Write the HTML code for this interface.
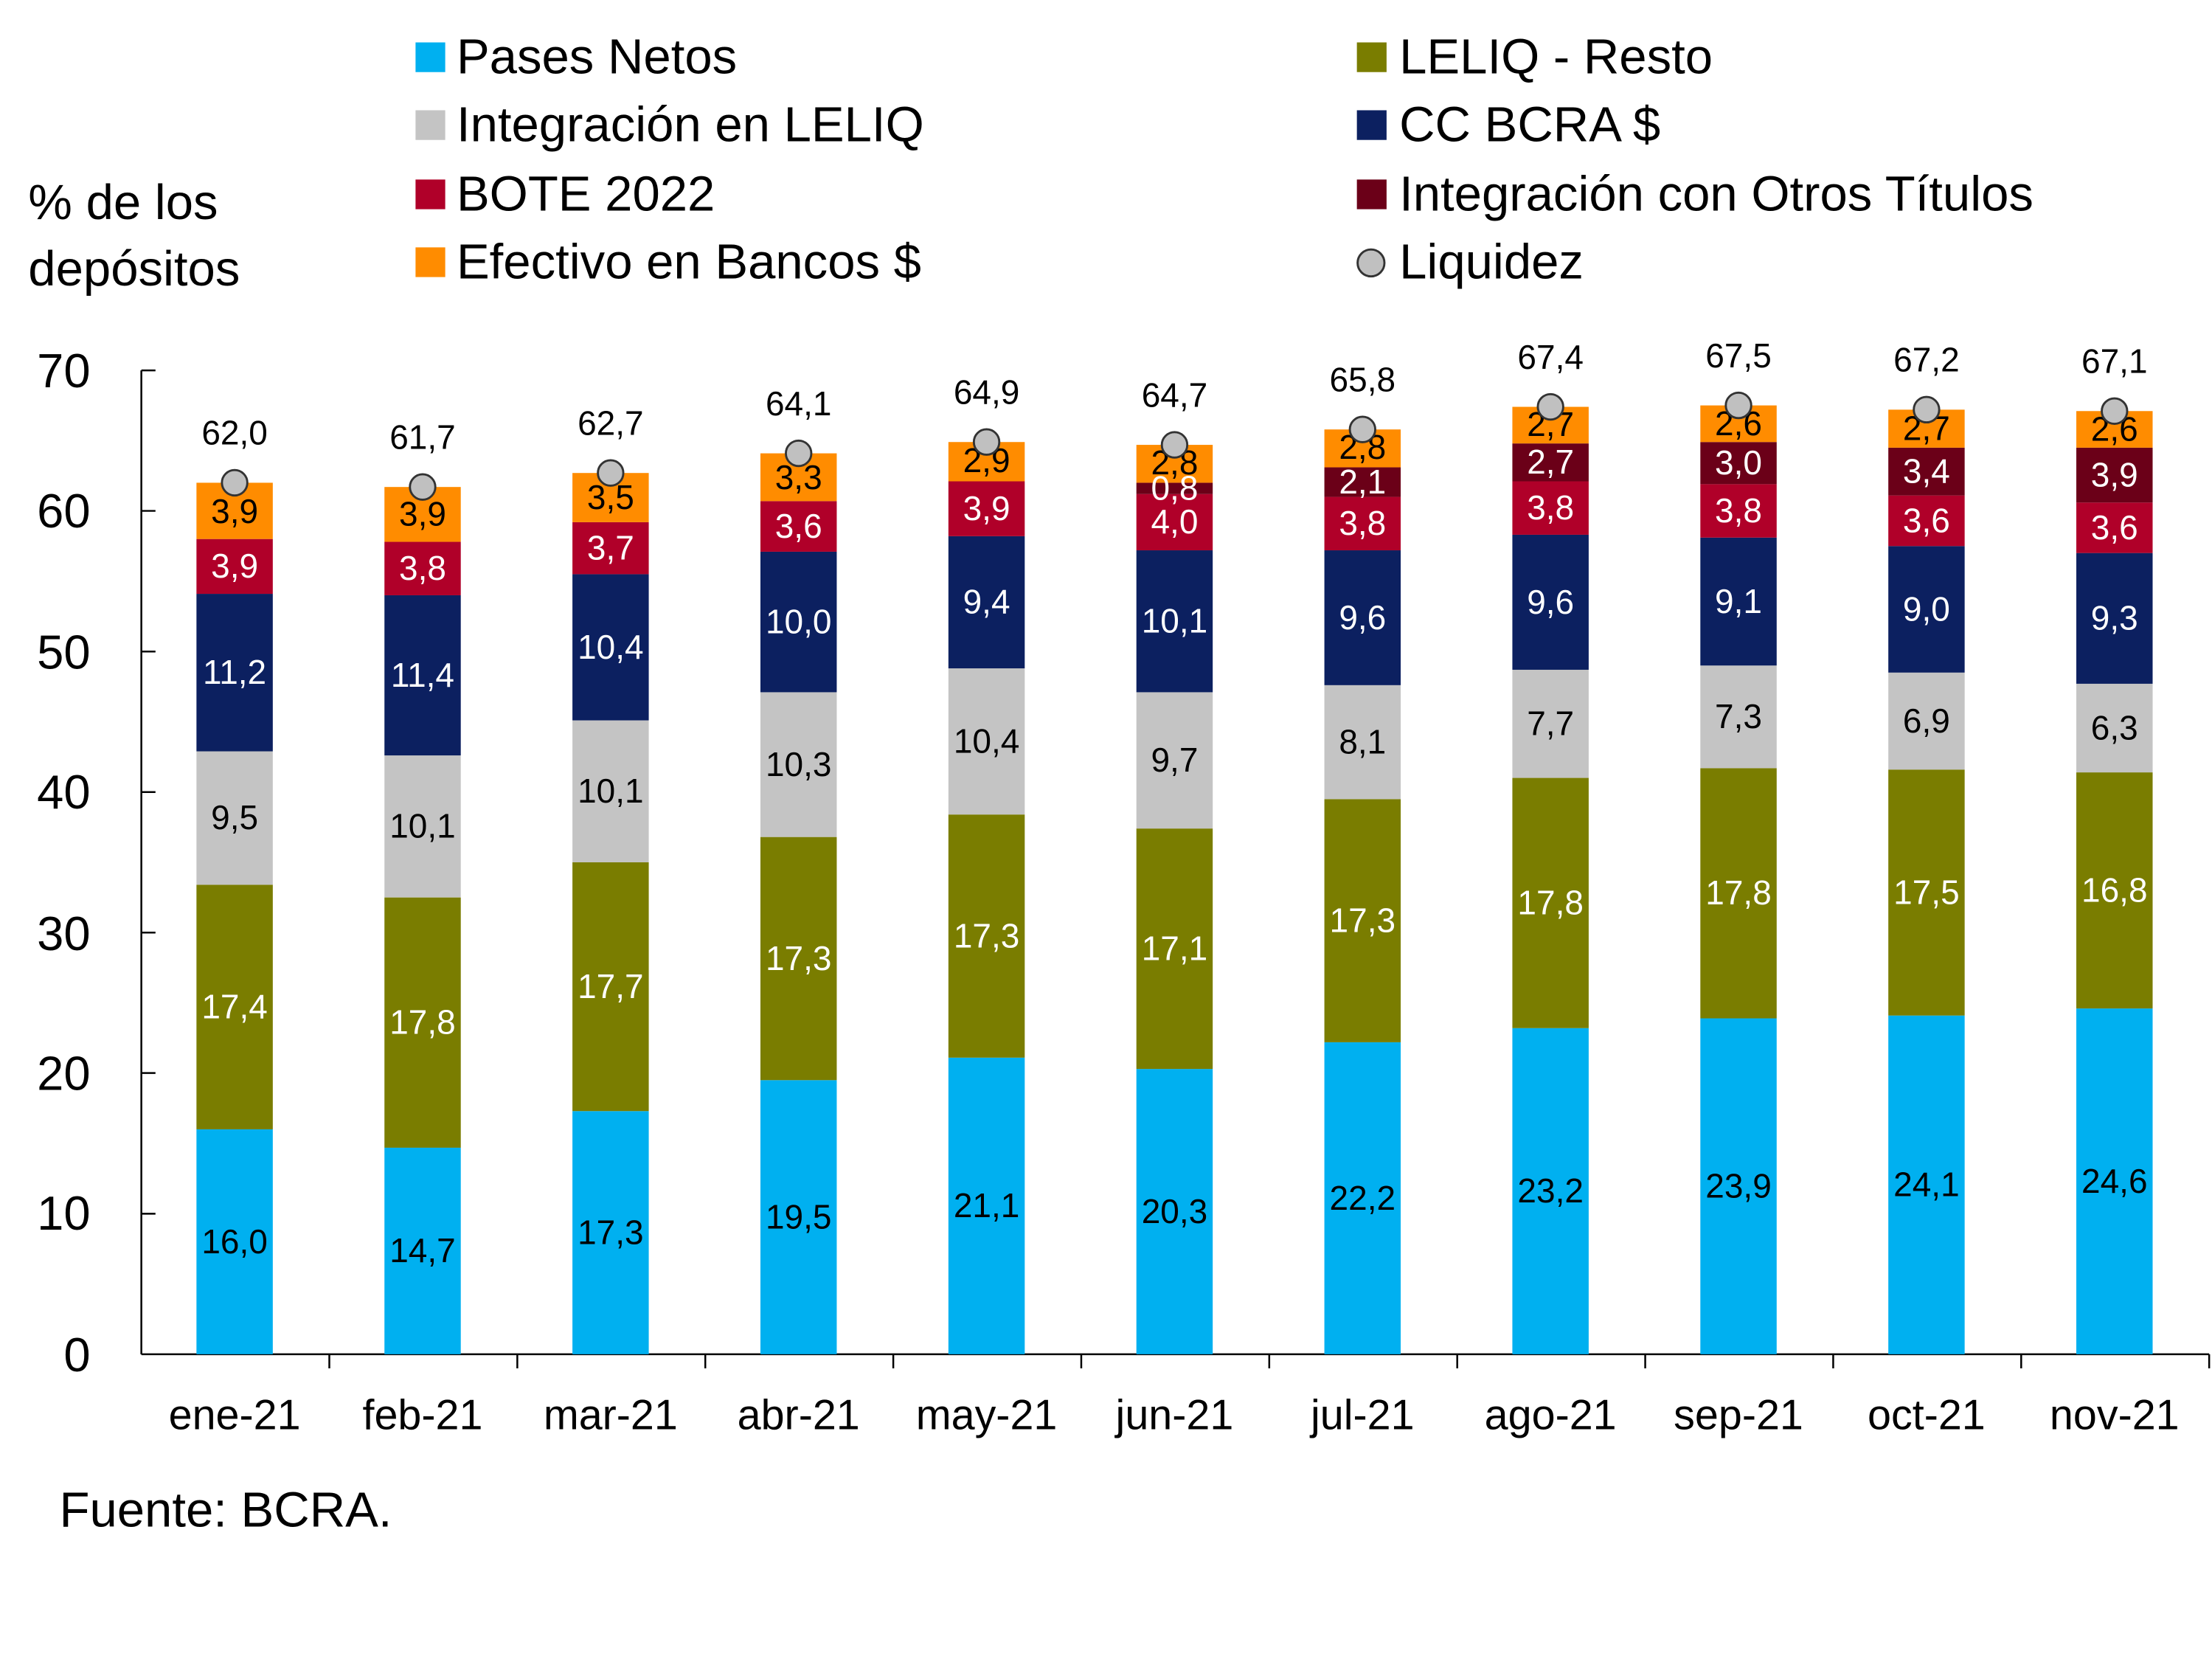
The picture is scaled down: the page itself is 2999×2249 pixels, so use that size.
<!DOCTYPE html>
<html><head><meta charset="utf-8"><style>
html,body{margin:0;padding:0;background:#fff;}
svg{display:block;font-family:"Liberation Sans",Arial,sans-serif;}
.v{font-size:24px;text-anchor:middle;fill:#000;}
.w{font-size:24px;text-anchor:middle;fill:#fff;}
.m{font-size:30px;text-anchor:middle;fill:#000;}
.p{fill:#00b0f0}.l{fill:#7a7d00}.i{fill:#c4c4c4}.c{fill:#0c2060}.b{fill:#b00029}.o{fill:#6b0018}.e{fill:#ff8c00}
.d{fill:#c0c0c0;stroke:#333;stroke-width:1.5}
</style></head><body>
<svg width="2999" height="2249" viewBox="0 0 1565 1173.6" preserveAspectRatio="none" xmlns="http://www.w3.org/2000/svg">
<rect width="1565" height="1173.6" fill="#fff"/>
<g font-size="35" fill="#000">
<rect x="294" y="30" width="21" height="21" fill="#00b0f0"/><text x="323" y="52">Pases Netos</text>
<rect x="294" y="78" width="21" height="21" fill="#c4c4c4"/><text x="323" y="100">Integración en LELIQ</text>
<rect x="294" y="127" width="21" height="21" fill="#b00029"/><text x="323" y="149">BOTE 2022</text>
<rect x="294" y="175" width="21" height="21" fill="#ff8c00"/><text x="323" y="197">Efectivo en Bancos $</text>
<rect x="960" y="30" width="21" height="21" fill="#7a7d00"/><text x="990" y="52">LELIQ - Resto</text>
<rect x="960" y="78" width="21" height="21" fill="#0c2060"/><text x="990" y="100">CC BCRA $</text>
<rect x="960" y="127" width="21" height="21" fill="#6b0018"/><text x="990" y="149">Integración con Otros Títulos</text>
<circle cx="970" cy="186" r="9.5" fill="#c0c0c0" stroke="#333" stroke-width="1.5"/><text x="990" y="197">Liquidez</text>
<text x="20" y="155">% de los</text>
<text x="20" y="202">depósitos</text>
<text x="42" y="1080">Fuente: BCRA.</text>
</g>
<g stroke="#000" stroke-width="1.3">
<line x1="100" y1="262" x2="100" y2="958"/>
<line x1="100" y1="958" x2="1563" y2="958"/>
<line x1="100" y1="262" x2="110" y2="262"/><line x1="100" y1="361.4" x2="110" y2="361.4"/>
<line x1="100" y1="460.9" x2="110" y2="460.9"/><line x1="100" y1="560.3" x2="110" y2="560.3"/>
<line x1="100" y1="659.7" x2="110" y2="659.7"/><line x1="100" y1="759.1" x2="110" y2="759.1"/>
<line x1="100" y1="858.6" x2="110" y2="858.6"/>
<line x1="233" y1="958" x2="233" y2="968"/><line x1="366" y1="958" x2="366" y2="968"/>
<line x1="499" y1="958" x2="499" y2="968"/><line x1="632" y1="958" x2="632" y2="968"/>
<line x1="765" y1="958" x2="765" y2="968"/><line x1="898" y1="958" x2="898" y2="968"/>
<line x1="1031" y1="958" x2="1031" y2="968"/><line x1="1164" y1="958" x2="1164" y2="968"/>
<line x1="1297" y1="958" x2="1297" y2="968"/><line x1="1430" y1="958" x2="1430" y2="968"/>
<line x1="1563" y1="958" x2="1563" y2="968"/>
</g>
<g font-size="34" text-anchor="end" fill="#000">
<text x="64" y="970">0</text><text x="64" y="870">10</text><text x="64" y="771">20</text>
<text x="64" y="672">30</text><text x="64" y="572">40</text><text x="64" y="473">50</text>
<text x="64" y="373">60</text><text x="64" y="274">70</text>
</g>

<rect class="p" x="139" y="798.9" width="54" height="159.1"/>
<rect class="l" x="139" y="625.9" width="54" height="173"/>
<rect class="i" x="139" y="531.4" width="54" height="94.5"/>
<rect class="c" x="139" y="420.1" width="54" height="111.4"/>
<rect class="b" x="139" y="381.3" width="54" height="38.8"/>
<rect class="e" x="139" y="341.5" width="54" height="39.8"/>
<text class="v" x="166" y="886.5">16,0</text><text class="w" x="166" y="720.4">17,4</text>
<text class="v" x="166" y="586.6">9,5</text><text class="w" x="166" y="483.8">11,2</text>
<text class="w" x="166" y="408.7">3,9</text><text class="v" x="166" y="369.9">3,9</text>
<circle class="d" cx="166" cy="341.5" r="9"/><text class="v" x="166" y="314.5">62,0</text>
<text class="m" x="166" y="1011">ene-21</text>

<rect class="p" x="272" y="811.8" width="54" height="146.2"/>
<rect class="l" x="272" y="634.9" width="54" height="177"/>
<rect class="i" x="272" y="534.4" width="54" height="100.4"/>
<rect class="c" x="272" y="421.1" width="54" height="113.3"/>
<rect class="b" x="272" y="383.3" width="54" height="37.8"/>
<rect class="e" x="272" y="344.5" width="54" height="38.8"/>
<text class="v" x="299" y="892.9">14,7</text><text class="w" x="299" y="731.4">17,8</text>
<text class="v" x="299" y="592.6">10,1</text><text class="w" x="299" y="485.8">11,4</text>
<text class="w" x="299" y="410.2">3,8</text><text class="v" x="299" y="371.9">3,9</text>
<circle class="d" cx="299" cy="344.5" r="9"/><text class="v" x="299" y="317.5">61,7</text>
<text class="m" x="299" y="1011">feb-21</text>

<rect class="p" x="405" y="786" width="54" height="172"/>
<rect class="l" x="405" y="610" width="54" height="176"/>
<rect class="i" x="405" y="509.6" width="54" height="100.4"/>
<rect class="c" x="405" y="406.2" width="54" height="103.4"/>
<rect class="b" x="405" y="369.4" width="54" height="36.8"/>
<rect class="e" x="405" y="334.6" width="54" height="34.8"/>
<text class="v" x="432" y="880">17,3</text><text class="w" x="432" y="706">17,7</text>
<text class="v" x="432" y="567.8">10,1</text><text class="w" x="432" y="465.9">10,4</text>
<text class="w" x="432" y="395.8">3,7</text><text class="v" x="432" y="360">3,5</text>
<circle class="d" cx="432" cy="334.6" r="9"/><text class="v" x="432" y="307.6">62,7</text>
<text class="m" x="432" y="1011">mar-21</text>

<rect class="p" x="538" y="764.1" width="54" height="193.9"/>
<rect class="l" x="538" y="592.1" width="54" height="172"/>
<rect class="i" x="538" y="489.7" width="54" height="102.4"/>
<rect class="c" x="538" y="390.3" width="54" height="99.4"/>
<rect class="b" x="538" y="354.5" width="54" height="35.8"/>
<rect class="e" x="538" y="320.7" width="54" height="33.8"/>
<text class="v" x="565" y="869">19,5</text><text class="w" x="565" y="686.1">17,3</text>
<text class="v" x="565" y="548.9">10,3</text><text class="w" x="565" y="448">10,0</text>
<text class="w" x="565" y="380.4">3,6</text><text class="v" x="565" y="346">3,3</text>
<circle class="d" cx="565" cy="320.7" r="9"/><text class="v" x="565" y="293.7">64,1</text>
<text class="m" x="565" y="1011">abr-21</text>

<rect class="p" x="671" y="748.2" width="54" height="209.8"/>
<rect class="l" x="671" y="576.2" width="54" height="172"/>
<rect class="i" x="671" y="472.8" width="54" height="103.4"/>
<rect class="c" x="671" y="379.3" width="54" height="93.5"/>
<rect class="b" x="671" y="340.5" width="54" height="38.8"/>
<rect class="e" x="671" y="312.7" width="54" height="27.8"/>
<text class="v" x="698" y="861.1">21,1</text><text class="w" x="698" y="670.2">17,3</text>
<text class="v" x="698" y="532.5">10,4</text><text class="w" x="698" y="434">9,4</text>
<text class="w" x="698" y="367.9">3,9</text><text class="v" x="698" y="334.1">2,9</text>
<circle class="d" cx="698" cy="312.7" r="9"/><text class="v" x="698" y="285.7">64,9</text>
<text class="m" x="698" y="1011">may-21</text>

<rect class="p" x="804" y="756.2" width="54" height="201.8"/>
<rect class="l" x="804" y="586.1" width="54" height="170.1"/>
<rect class="i" x="804" y="489.7" width="54" height="96.4"/>
<rect class="c" x="804" y="389.3" width="54" height="100.4"/>
<rect class="b" x="804" y="349.5" width="54" height="39.8"/>
<rect class="o" x="804" y="341.5" width="54" height="8"/>
<rect class="e" x="804" y="314.7" width="54" height="26.8"/>
<text class="v" x="831" y="865.1">20,3</text><text class="w" x="831" y="679.2">17,1</text>
<text class="v" x="831" y="545.9">9,7</text><text class="w" x="831" y="447.5">10,1</text>
<text class="w" x="831" y="377.4">4,0</text><text class="w" x="831" y="353.5">0,8</text>
<text class="v" x="831" y="335.6">2,8</text>
<circle class="d" cx="831" cy="314.7" r="9"/><text class="v" x="831" y="287.7">64,7</text>
<text class="m" x="831" y="1011">jun-21</text>

<rect class="p" x="937" y="737.3" width="54" height="220.7"/>
<rect class="l" x="937" y="565.3" width="54" height="172"/>
<rect class="i" x="937" y="484.7" width="54" height="80.6"/>
<rect class="c" x="937" y="389.3" width="54" height="95.4"/>
<rect class="b" x="937" y="351.5" width="54" height="37.8"/>
<rect class="o" x="937" y="330.6" width="54" height="20.9"/>
<rect class="e" x="937" y="303.8" width="54" height="26.8"/>
<text class="v" x="964" y="855.7">22,2</text><text class="w" x="964" y="659.3">17,3</text>
<text class="v" x="964" y="533">8,1</text><text class="w" x="964" y="445">9,6</text>
<text class="w" x="964" y="378.4">3,8</text><text class="w" x="964" y="349.1">2,1</text>
<text class="v" x="964" y="324.7">2,8</text>
<circle class="d" cx="964" cy="303.8" r="9"/><text class="v" x="964" y="276.8">65,8</text>
<text class="m" x="964" y="1011">jul-21</text>

<rect class="p" x="1070" y="727.3" width="54" height="230.7"/>
<rect class="l" x="1070" y="550.3" width="54" height="177"/>
<rect class="i" x="1070" y="473.8" width="54" height="76.5"/>
<rect class="c" x="1070" y="378.3" width="54" height="95.5"/>
<rect class="b" x="1070" y="340.5" width="54" height="37.8"/>
<rect class="o" x="1070" y="313.7" width="54" height="26.8"/>
<rect class="e" x="1070" y="287.8" width="54" height="25.9"/>
<text class="v" x="1097" y="850.7">23,2</text><text class="w" x="1097" y="646.8">17,8</text>
<text class="v" x="1097" y="520.1">7,7</text><text class="w" x="1097" y="434.1">9,6</text>
<text class="w" x="1097" y="367.4">3,8</text><text class="w" x="1097" y="335.1">2,7</text>
<text class="v" x="1097" y="308.3">2,7</text>
<circle class="d" cx="1097" cy="287.8" r="9"/><text class="v" x="1097" y="260.8">67,4</text>
<text class="m" x="1097" y="1011">ago-21</text>

<rect class="p" x="1203" y="720.4" width="54" height="237.6"/>
<rect class="l" x="1203" y="543.4" width="54" height="177"/>
<rect class="i" x="1203" y="470.8" width="54" height="72.6"/>
<rect class="c" x="1203" y="380.3" width="54" height="90.5"/>
<rect class="b" x="1203" y="342.5" width="54" height="37.8"/>
<rect class="o" x="1203" y="312.7" width="54" height="29.8"/>
<rect class="e" x="1203" y="286.8" width="54" height="25.9"/>
<text class="v" x="1230" y="847.2">23,9</text><text class="w" x="1230" y="639.9">17,8</text>
<text class="v" x="1230" y="515.1">7,3</text><text class="w" x="1230" y="433.6">9,1</text>
<text class="w" x="1230" y="369.4">3,8</text><text class="w" x="1230" y="335.6">3,0</text>
<text class="v" x="1230" y="307.8">2,6</text>
<circle class="d" cx="1230" cy="286.8" r="9"/><text class="v" x="1230" y="259.8">67,5</text>
<text class="m" x="1230" y="1011">sep-21</text>

<rect class="p" x="1336" y="718.4" width="54" height="239.6"/>
<rect class="l" x="1336" y="544.4" width="54" height="174"/>
<rect class="i" x="1336" y="475.8" width="54" height="68.6"/>
<rect class="c" x="1336" y="386.3" width="54" height="89.5"/>
<rect class="b" x="1336" y="350.5" width="54" height="35.8"/>
<rect class="o" x="1336" y="316.7" width="54" height="33.8"/>
<rect class="e" x="1336" y="289.8" width="54" height="26.9"/>
<text class="v" x="1363" y="846.2">24,1</text><text class="w" x="1363" y="639.4">17,5</text>
<text class="v" x="1363" y="518.1">6,9</text><text class="w" x="1363" y="439.1">9,0</text>
<text class="w" x="1363" y="376.4">3,6</text><text class="w" x="1363" y="341.6">3,4</text>
<text class="v" x="1363" y="311.3">2,7</text>
<circle class="d" cx="1363" cy="289.8" r="9"/><text class="v" x="1363" y="262.8">67,2</text>
<text class="m" x="1363" y="1011">oct-21</text>

<rect class="p" x="1469" y="713.4" width="54" height="244.6"/>
<rect class="l" x="1469" y="546.4" width="54" height="167"/>
<rect class="i" x="1469" y="483.7" width="54" height="62.7"/>
<rect class="c" x="1469" y="391.2" width="54" height="92.5"/>
<rect class="b" x="1469" y="355.5" width="54" height="35.7"/>
<rect class="o" x="1469" y="316.7" width="54" height="38.8"/>
<rect class="e" x="1469" y="290.8" width="54" height="25.9"/>
<text class="v" x="1496" y="843.7">24,6</text><text class="w" x="1496" y="637.9">16,8</text>
<text class="v" x="1496" y="523.1">6,3</text><text class="w" x="1496" y="445.5">9,3</text>
<text class="w" x="1496" y="381.4">3,6</text><text class="w" x="1496" y="344.1">3,9</text>
<text class="v" x="1496" y="311.8">2,6</text>
<circle class="d" cx="1496" cy="290.8" r="9"/><text class="v" x="1496" y="263.8">67,1</text>
<text class="m" x="1496" y="1011">nov-21</text>
</svg>
</body></html>
